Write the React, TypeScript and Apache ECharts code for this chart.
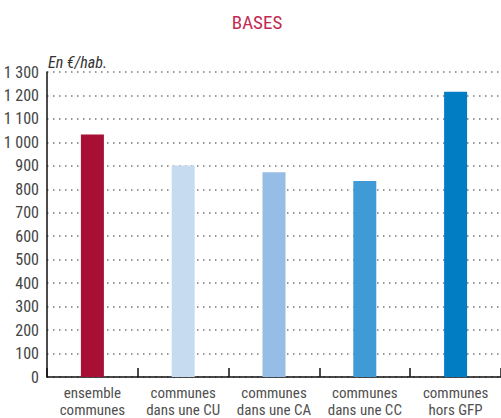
import React, { useEffect, useRef } from "react";
import * as echarts from "echarts";

const categories = [
  "ensemble\ncommunes",
  "communes\ndans une CU",
  "communes\ndans une CA",
  "communes\ndans une CC",
  "communes\nhors GFP",
];
const values = [1034, 902, 873, 835, 1216];
const barColors = ["#A80F35", "#C7DBF0", "#96BDE5", "#409AD5", "#007DC3"];
const yMin = 0;
const yMax = 1300;
const yInterval = 100;
const titleText = "BASES";
const unitText = "En €/hab.";

const FONT = "'Liberation Sans Narrow', 'Roboto Condensed', 'Arial Narrow', Roboto, sans-serif";

export default function App() {
  const ref = useRef<HTMLDivElement>(null);
  useEffect(() => {
    document.body.style.margin = "0";
    const chart = echarts.init(ref.current!, null, { renderer: "svg" });
    chart.setOption({
      animation: false,
      backgroundColor: "#ffffff",
      textStyle: { fontFamily: FONT },
      grid: { left: 47, right: 0, top: 72, bottom: 39, containLabel: false },
      graphic: [
        {
          type: "text",
          x: 257,
          y: 22,
          style: {
            text: titleText,
            fill: "#C22A52",
            font: `19px ${FONT}`,
            textAlign: "center",
            textVerticalAlign: "middle",
          },
        },
        {
          type: "text",
          x: 48,
          y: 62,
          style: {
            text: unitText,
            fill: "#333333",
            font: `italic 16px ${FONT}`,
            textAlign: "left",
            textVerticalAlign: "middle",
          },
        },
      ],
      xAxis: {
        type: "category",
        data: categories,
        boundaryGap: true,
        axisLine: { show: true, lineStyle: { color: "#111111", width: 1.5 } },
        axisTick: { show: true, inside: true, length: 9, lineStyle: { color: "#111111", width: 1.5 } },
        axisLabel: {
          color: "#505050",
          fontSize: 15,
          lineHeight: 17,
          margin: 7,
          fontFamily: FONT,
          interval: 0,
        },
        splitLine: { show: false },
      },
      yAxis: {
        type: "value",
        min: yMin,
        max: yMax,
        interval: yInterval,
        axisLine: { show: true, lineStyle: { color: "#111111", width: 1.5 } },
        axisTick: { show: false },
        axisLabel: {
          color: "#444444",
          fontSize: 16,
          margin: 8,
          fontFamily: FONT,
          formatter: (v: number) => String(v).replace(/\B(?=(\d{3})+(?!\d))/g, " "),
        },
        splitLine: {
          show: true,
          lineStyle: { color: "#777777", width: 1.5, type: [1.5, 4.5] },
        },
      },
      series: [
        {
          type: "bar",
          barWidth: 23,
          data: values.map((v, i) => ({ value: v, itemStyle: { color: barColors[i] } })),
        },
      ],
    });
    return () => chart.dispose();
  }, []);
  return <div ref={ref} style={{ width: 501, height: 418 }} />;
}
